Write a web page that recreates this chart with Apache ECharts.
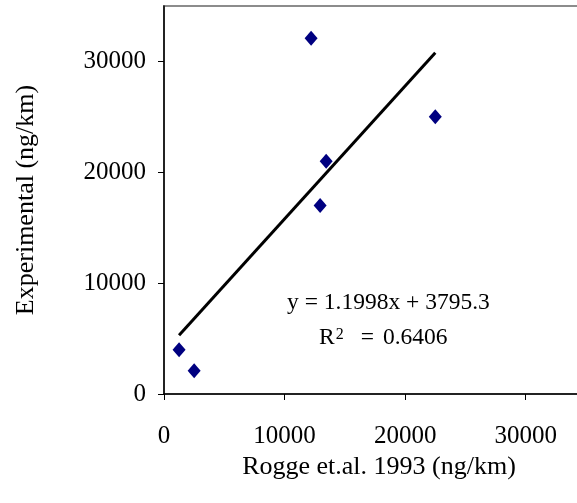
<!DOCTYPE html>
<html>
<head>
<meta charset="utf-8">
<script src="https://cdn.jsdelivr.net/npm/echarts@6/dist/echarts.min.js"></script>
<style>
  html, body { margin: 0; padding: 0; background: #fff; }
  #chart { width: 577px; height: 503px; }
</style>
</head>
<body>
<div id="chart"></div>
<script>
// Rogge et al. (1993) emission factors vs. measured values, ng/km
const roggeValues = [1250, 2500, 12200, 12950, 13450, 22500];
const experimentalValues = [4000, 2100, 32100, 17000, 21000, 25000];

// Linear trendline, as reported in the annotation
const trendSlope = 1.1998;
const trendIntercept = 3795.3;
const trendR2 = '0.6406';

const xTicks = [0, 10000, 20000, 30000];
const yTicks = [0, 10000, 20000, 30000];

const points = roggeValues.map((x, i) => [x, experimentalValues[i]]);
const xMin = Math.min(...roggeValues);
const xMax = Math.max(...roggeValues);
const trendPoints = [xMin, xMax].map(x => [x, trendSlope * x + trendIntercept]);

const serif = '"Liberation Serif", "Times New Roman", serif';
const tickFont = 25;
const titleFont = 26;
const noteFont = 23.5;

const chart = echarts.init(document.getElementById('chart'), null, { renderer: 'canvas' });
chart.setOption({
  animation: false,
  backgroundColor: '#ffffff',
  grid: {
    left: 164, top: 6, width: 422, bottom: 109,
    outerBoundsMode: 'none', containLabel: false,
    show: true, borderColor: '#8c8c8c', borderWidth: 2, backgroundColor: 'transparent'
  },
  xAxis: {
    type: 'value', min: 0, max: 35000, interval: 10000,
    name: 'Rogge et.al. 1993 (ng/km)', nameLocation: 'middle', nameGap: 56,
    nameTextStyle: { fontFamily: serif, fontSize: titleFont, color: '#000', padding: [0, 0, 0, 8] },
    axisLine: { show: true, onZero: false, lineStyle: { color: '#000', width: 1.5 } },
    axisTick: { show: true, inside: false, length: 6, customValues: xTicks, lineStyle: { color: '#000', width: 1 } },
    axisLabel: {
      fontFamily: serif, fontSize: tickFont, color: '#000', margin: 30,
      customValues: xTicks, formatter: v => String(v)
    },
    splitLine: { show: false }
  },
  yAxis: {
    type: 'value', min: 0, max: 35000, interval: 10000,
    name: 'Experimental (ng/km)', nameLocation: 'middle', nameGap: 125, nameRotate: 90,
    nameTextStyle: { fontFamily: serif, fontSize: titleFont, color: '#000' },
    axisLine: { show: true, onZero: false, lineStyle: { color: '#000', width: 1.5 } },
    axisTick: { show: true, inside: false, length: 6, customValues: yTicks, lineStyle: { color: '#000', width: 1 } },
    axisLabel: {
      fontFamily: serif, fontSize: tickFont, color: '#000', margin: 18,
      customValues: yTicks, formatter: v => String(v)
    },
    splitLine: { show: false }
  },
  series: [
    {
      type: 'line',
      data: trendPoints,
      symbol: 'none',
      lineStyle: { color: '#000', width: 3 },
      z: 2
    },
    {
      type: 'scatter',
      data: points,
      symbol: 'diamond',
      symbolSize: [13, 15],
      itemStyle: { color: '#000080', opacity: 1 },
      z: 3
    }
  ],
  graphic: [
    {
      type: 'text', left: 287, top: 291,
      style: {
        text: 'y = ' + trendSlope + 'x + ' + trendIntercept,
        font: noteFont + 'px ' + serif, fill: '#000'
      }
    },
    {
      type: 'text', left: 319, top: 324,
      style: {
        text: '{r|R}{s|2}{e|=}{v|' + trendR2 + '}',
        rich: {
          r: { fontFamily: serif, fontSize: noteFont, fill: '#000', color: '#000', lineHeight: 28 },
          s: { fontFamily: serif, fontSize: 16, fill: '#000', color: '#000', verticalAlign: 'top', lineHeight: 16, padding: [3, 0, 0, 1] },
          e: { fontFamily: serif, fontSize: noteFont, fill: '#000', color: '#000', lineHeight: 28, padding: [0, 0, 0, 17] },
          v: { fontFamily: serif, fontSize: noteFont, fill: '#000', color: '#000', lineHeight: 28, padding: [0, 0, 0, 9] }
        }
      }
    }
  ]
});
</script>
</body>
</html>
